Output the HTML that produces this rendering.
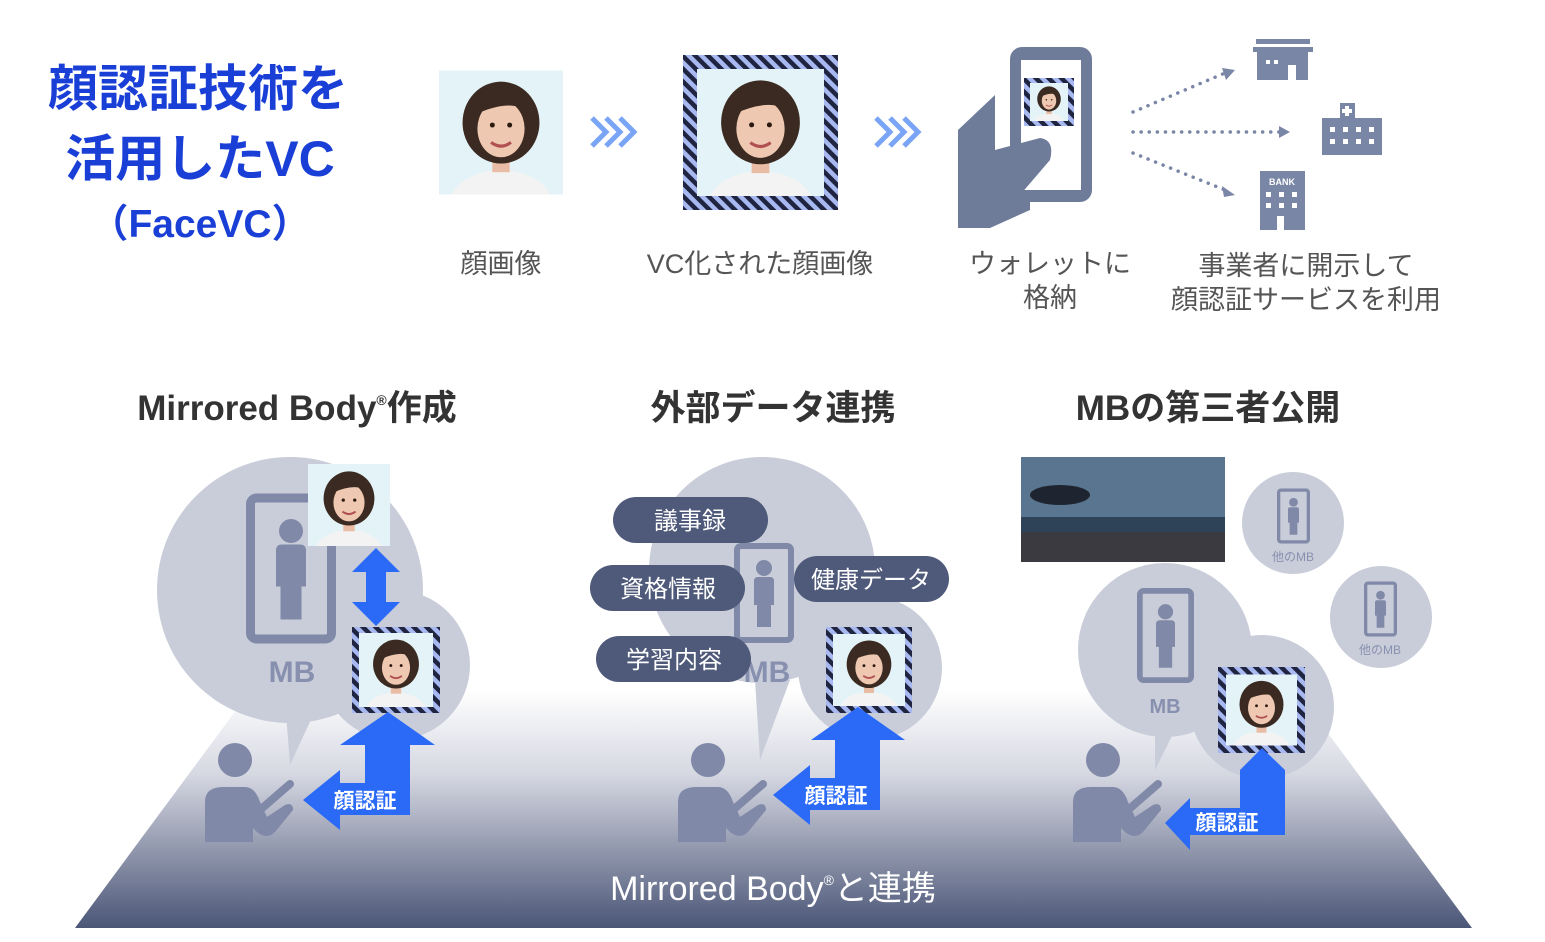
<!DOCTYPE html>
<html><head><meta charset="utf-8"><style>
html,body{margin:0;padding:0;background:#fff}
body{width:1545px;height:942px;overflow:hidden;font-family:"Liberation Sans","Noto Sans CJK JP",sans-serif}
svg{display:block}
</style></head><body>
<svg width="1545" height="942" viewBox="0 0 1545 942" xmlns="http://www.w3.org/2000/svg" font-family="Liberation Sans, Noto Sans CJK JP, sans-serif">
<defs>
<linearGradient id="floor" x1="0" y1="0" x2="0" y2="1">
<stop offset="0" stop-color="#ffffff"/><stop offset="0.35" stop-color="#d6d8e2"/><stop offset="1" stop-color="#4b5677"/>
</linearGradient>
<pattern id="hatch" width="9" height="9" patternUnits="userSpaceOnUse" patternTransform="rotate(-45)">
<rect width="9" height="9" fill="#a8b8f0"/><rect width="4.5" height="9" fill="#1f2540"/>
</pattern>
<symbol id="face" viewBox="0 0 100 100">
<rect width="100" height="100" fill="#e4f3f7"/>
<path d="M10 100 Q20 82 50 80 Q80 82 90 100Z" fill="#f3f3f3"/>
<rect x="43" y="62" width="14" height="20" fill="#e8bca5"/>
<ellipse cx="50" cy="42" rx="31" ry="33" fill="#3a2a22"/>
<ellipse cx="50" cy="47" rx="19" ry="23" fill="#efc8b1"/>
<path d="M30 35 Q45 12 72 34 Q60 22 30 35Z" fill="#3a2a22"/>
<path d="M42 58 Q50 64 58 58" stroke="#b05050" stroke-width="2.5" fill="none"/>
<circle cx="43" cy="44" r="2" fill="#2a1a10"/><circle cx="57" cy="44" r="2" fill="#2a1a10"/>
</symbol>
<symbol id="phone" viewBox="0 0 60 100">
<rect x="3" y="3" width="54" height="94" rx="4" fill="none" stroke="currentColor" stroke-width="6"/>
<circle cx="30" cy="25" r="8" fill="currentColor"/>
<path d="M20 38 Q20 34 24 34 H36 Q40 34 40 38 V62 H37 V84 H23 V62 H20Z" fill="currentColor"/>
<rect x="25" y="89" width="10" height="3" rx="1.5" fill="#c9cdd9"/>
</symbol>
<symbol id="person" viewBox="0 0 90 100">
<circle cx="30" cy="18" r="17" fill="#8089a8"/>
<path d="M0 100 V60 Q0 45 18 45 H40 Q50 45 55 60 L62 75 L80 63 Q88 60 88 68 L70 90 Q62 98 52 90 L48 86 V100Z" fill="#8089a8"/>
<path d="M55 68 L85 42" stroke="#8089a8" stroke-width="8" stroke-linecap="round"/>
</symbol>
</defs>

<polygon points="251,690 1296,690 1472,928 75,928" fill="url(#floor)"/>

<g fill="#1a3fd6" font-weight="bold" text-anchor="middle">
<text x="198" y="106" font-size="50">顔認証技術を</text>
<text x="200" y="176" font-size="50">活用したVC</text>
<text x="200" y="237" font-size="39">（FaceVC）</text>
</g>

<use href="#face" x="439" y="70" width="124" height="125"/>
<rect x="683" y="55" width="155" height="155" fill="url(#hatch)"/>
<use href="#face" x="697" y="69" width="127" height="127"/>
<g fill="none" stroke="#7aa4f5" stroke-width="5">
<path d="M592 118 L606 132 L592 146 M606 118 L620 132 L606 146 M620 118 L634 132 L620 146"/>
<path d="M876 118 L890 132 L876 146 M890 118 L904 132 L890 146 M904 118 L918 132 L904 146"/>
</g>

<g fill="#6e7b99">
<rect x="1010" y="47" width="82" height="155" rx="12"/>
<rect x="1021" y="60" width="60" height="130" fill="#fff"/>
<path d="M958 130 L995 95 L995 150 L1040 138 Q1055 140 1050 160 L1020 195 L1030 200 L1030 210 L990 228 L958 228Z"/>
</g>
<rect x="1024" y="78" width="50" height="48" fill="url(#hatch)"/>
<use href="#face" x="1030" y="83" width="38" height="38"/>
<g fill="none" stroke="#7a86a6" stroke-width="3.5" stroke-dasharray="0.1 8" stroke-linecap="round">
<path d="M1133 112 L1225 73"/><path d="M1133 132 L1280 132"/><path d="M1133 153 L1225 190"/>
</g>
<g fill="#7a86a6">
<polygon points="1235,70 1222,68 1226,80"/><polygon points="1290,132 1279,126 1279,138"/><polygon points="1235,195 1222,186 1224,197"/>
<rect x="1256" y="39" width="54" height="5"/><rect x="1253" y="47" width="60" height="5"/>
<path d="M1257 52 H1308 V80 H1296 V65 H1288 V80 H1257Z"/>
<rect x="1322" y="118" width="60" height="37"/><rect x="1340" y="103" width="15" height="18"/>
<rect x="1260" y="171" width="45" height="59"/>
</g>
<g fill="#fff">
<rect x="1266" y="60" width="4" height="4"/><rect x="1274" y="60" width="4" height="4"/>
<rect x="1345" y="106" width="4" height="10"/><rect x="1342" y="109" width="10" height="4"/>
<rect x="1330" y="127" width="5" height="5"/><rect x="1343" y="127" width="5" height="5"/><rect x="1356" y="127" width="5" height="5"/><rect x="1369" y="127" width="5" height="5"/>
<rect x="1330" y="139" width="5" height="5"/><rect x="1343" y="139" width="5" height="5"/><rect x="1356" y="139" width="5" height="5"/><rect x="1369" y="139" width="5" height="5"/>
<rect x="1266" y="192" width="5" height="5"/><rect x="1279" y="192" width="5" height="5"/><rect x="1292" y="192" width="5" height="5"/>
<rect x="1266" y="203" width="5" height="5"/><rect x="1279" y="203" width="5" height="5"/><rect x="1292" y="203" width="5" height="5"/>
<rect x="1277" y="216" width="7" height="14"/>
<text x="1282" y="185" font-size="9" font-weight="bold" text-anchor="middle">BANK</text>
</g>

<g fill="#555" font-size="27" text-anchor="middle">
<text x="501" y="273">顔画像</text>
<text x="760" y="273">VC化された顔画像</text>
<text x="1050" y="273">ウォレットに</text>
<text x="1050" y="307">格納</text>
<text x="1306" y="275">事業者に開示して</text>
<text x="1306" y="309">顔認証サービスを利用</text>
</g>

<g fill="#333" font-size="35" font-weight="bold" text-anchor="middle">
<text x="297" y="420">Mirrored Body<tspan font-size="14" dy="-15">®</tspan><tspan dy="15">作成</tspan></text>
<text x="773" y="420">外部データ連携</text>
<text x="1208" y="420">MBの第三者公開</text>
</g>

<g fill="#c9cdd9">
<circle cx="290" cy="590" r="133"/><circle cx="395" cy="665" r="75"/>
<polygon points="285,700 320,700 290,765"/>
</g>
<use href="#phone" x="246" y="490" width="90" height="157" color="#8089a8" preserveAspectRatio="none"/>
<text x="292" y="682" font-size="30" font-weight="bold" fill="#8890b0" text-anchor="middle">MB</text>
<use href="#face" x="308" y="464" width="82" height="82"/>
<polygon points="376,548 400,572 386,572 386,602 400,602 376,626 352,602 366,602 366,572 352,572" fill="#2a6af7"/>
<rect x="352" y="627" width="88" height="86" fill="url(#hatch)"/>
<use href="#face" x="359" y="633" width="74" height="74"/>
<use href="#person" x="205" y="742" width="90" height="100"/>
<polygon points="388,712 435,745 410,745 410,815 340,815 340,830 303,800 340,770 340,783 365,783 365,745 340,745" fill="#2a6af7"/>
<text x="365" y="808" font-size="21" font-weight="bold" fill="#fff" text-anchor="middle">顔認証</text>

<g fill="#c9cdd9">
<circle cx="762" cy="570" r="113"/><circle cx="870" cy="668" r="72"/>
<polygon points="755,680 790,680 760,760"/>
</g>
<use href="#phone" x="733" y="543" width="62" height="100" color="#8089a8" preserveAspectRatio="none"/>
<text x="767" y="682" font-size="30" font-weight="bold" fill="#8890b0" text-anchor="middle">MB</text>
<g fill="#4f5a7a">
<rect x="613" y="497" width="155" height="46" rx="23"/>
<rect x="590" y="565" width="155" height="46" rx="23"/>
<rect x="596" y="636" width="155" height="46" rx="23"/>
<rect x="794" y="556" width="155" height="46" rx="23"/>
</g>
<g fill="#fff" font-size="24" text-anchor="middle">
<text x="690" y="529">議事録</text>
<text x="668" y="597">資格情報</text>
<text x="674" y="668">学習内容</text>
<text x="871" y="588">健康データ</text>
</g>
<rect x="826" y="627" width="86" height="86" fill="url(#hatch)"/>
<use href="#face" x="833" y="633" width="72" height="74"/>
<use href="#person" x="678" y="742" width="90" height="100"/>
<polygon points="858,707 905,740 880,740 880,810 810,810 810,825 773,795 810,765 810,778 835,778 835,740 811,740" fill="#2a6af7"/>
<text x="836" y="803" font-size="21" font-weight="bold" fill="#fff" text-anchor="middle">顔認証</text>

<rect x="1021" y="457" width="204" height="105" fill="#2e4258"/>
<rect x="1021" y="457" width="204" height="60" fill="#5a7590"/>
<ellipse cx="1060" cy="495" rx="30" ry="10" fill="#1e2530"/>
<rect x="1021" y="532" width="204" height="30" fill="#3a3a40"/>
<g fill="#c9cdd9">
<circle cx="1293" cy="523" r="51"/><circle cx="1381" cy="617" r="51"/>
<circle cx="1165" cy="650" r="87"/><circle cx="1262" cy="707" r="72"/>
<polygon points="1155,720 1180,720 1155,770"/>
</g>
<use href="#phone" x="1277" y="486" width="33" height="60" color="#8089a8" preserveAspectRatio="none"/>
<use href="#phone" x="1364" y="579" width="33" height="60" color="#8089a8" preserveAspectRatio="none"/>
<g fill="#8890b0" font-size="12" text-anchor="middle">
<text x="1293" y="561">他のMB</text><text x="1380" y="654">他のMB</text>
</g>
<use href="#phone" x="1137" y="585" width="57" height="101" color="#8089a8" preserveAspectRatio="none"/>
<text x="1165" y="713" font-size="20" font-weight="bold" fill="#8890b0" text-anchor="middle">MB</text>
<rect x="1218" y="667" width="87" height="86" fill="url(#hatch)"/>
<use href="#face" x="1226" y="674" width="71" height="72"/>
<use href="#person" x="1073" y="742" width="90" height="100"/>
<polygon points="1262,748 1285,770 1285,835 1190,835 1190,850 1165,823 1190,798 1190,808 1240,808 1240,770" fill="#2a6af7"/>
<text x="1227" y="830" font-size="21" font-weight="bold" fill="#fff" text-anchor="middle">顔認証</text>

<text x="773" y="900" font-size="34" fill="#fff" text-anchor="middle">Mirrored Body<tspan font-size="14" dy="-15">®</tspan><tspan dy="15">と連携</tspan></text>
</svg>
</body></html>
